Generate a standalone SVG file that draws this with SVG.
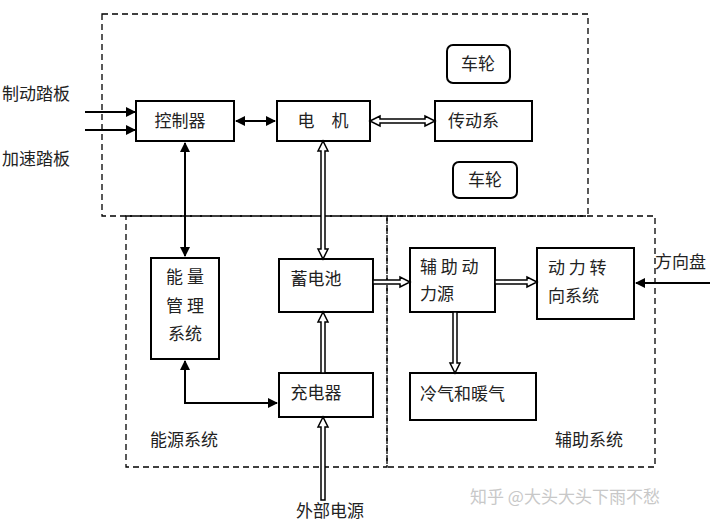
<svg xmlns="http://www.w3.org/2000/svg" width="720" height="528" viewBox="0 0 720 528">
<style>
.b{fill:#fff;stroke:#000;stroke-width:2}
.d{fill:none;stroke:#000;stroke-width:1.3;stroke-dasharray:6,4}
.t{font-family:"Noto Sans CJK SC","Liberation Serif",serif;font-size:17px;fill:#222}
.l{stroke:#000;stroke-width:2;fill:none}
.h{fill:#fff;stroke:#000;stroke-width:1.5}
</style>
<defs><marker id="a" viewBox="0 0 10 10" refX="9" refY="5" markerWidth="5" markerHeight="5" orient="auto-start-reverse"><path d="M0,0L10,5L0,10z" fill="#000"/></marker></defs>
<rect width="720" height="528" fill="#fff"/>
<g id="frames">
<rect class="d" x="102" y="14" width="486" height="202"/>
<rect class="d" x="126" y="216" width="261" height="251"/>
<rect class="d" x="387" y="216" width="268" height="251"/>
</g>
<g id="wheel1"><rect class="b" x="447" y="45" width="63" height="38" rx="6"/><text class="t" x="478" y="70" text-anchor="middle" font-size="15">车轮</text></g>
<g id="wheel2"><rect class="b" x="453" y="162" width="64" height="36" rx="6"/><text class="t" x="485" y="186" text-anchor="middle" font-size="15">车轮</text></g>
<g id="ctrl"><rect class="b" x="136" y="101" width="98" height="40"/><text class="t" x="180" y="127" text-anchor="middle">控制器</text></g>
<g id="motor"><rect class="b" x="277" y="101" width="93" height="40"/><text class="t" x="323" y="127" text-anchor="middle">电　机</text></g>
<g id="trans"><rect class="b" x="435" y="101" width="97" height="40"/><text class="t" x="448" y="127">传动系</text></g>
<g id="bms"><rect class="b" x="151" y="258" width="68" height="101"/><text class="t" x="185" y="283" text-anchor="middle">能 量</text><text class="t" x="185" y="312" text-anchor="middle">管 理</text><text class="t" x="185" y="340" text-anchor="middle">系统</text></g>
<g id="battery"><rect class="b" x="279" y="259" width="94" height="53"/><text class="t" x="316" y="285" text-anchor="middle">蓄电池</text></g>
<g id="charger"><rect class="b" x="279" y="373" width="94" height="44"/><text class="t" x="316" y="399" text-anchor="middle">充电器</text></g>
<g id="apu"><rect class="b" x="410" y="248" width="85" height="64"/><text class="t" x="420" y="273" font-size="15">辅 助 动</text><text class="t" x="420" y="300" font-size="15">力源</text></g>
<g id="steer"><rect class="b" x="537" y="248" width="97" height="71"/><text class="t" x="548" y="274">动 力 转</text><text class="t" x="548" y="302">向系统</text></g>
<g id="hvac"><rect class="b" x="410" y="373" width="126" height="47"/><text class="t" x="420" y="400">冷气和暖气</text></g>
<g id="labels">
<text class="t" x="2" y="100">制动踏板</text>
<text class="t" x="2" y="165">加速踏板</text>
<text class="t" x="150" y="446">能源系统</text>
<text class="t" x="555" y="446">辅助系统</text>
<text class="t" x="296" y="517">外部电源</text>
<text class="t" x="655" y="268">方向盘</text>
<text class="t" x="470" y="503" fill="#ccc" style="fill:#c8c8c8">知乎 @大头大头下雨不愁</text>
</g>
<g id="connectors">
<line class="l" x1="85" y1="112" x2="135" y2="112" marker-end="url(#a)"/>
<line class="l" x1="85" y1="130" x2="135" y2="130" marker-end="url(#a)"/>
<line class="l" x1="236" y1="121" x2="275" y2="121" marker-start="url(#a)" marker-end="url(#a)"/>
<line class="l" x1="185" y1="143" x2="185" y2="256" marker-start="url(#a)" marker-end="url(#a)"/>
<polyline class="l" points="185,361 185,403 277,403" marker-start="url(#a)" marker-end="url(#a)"/>
<line class="l" x1="710" y1="283" x2="636" y2="283" marker-end="url(#a)"/>
<polygon class="h" points="370,121 380,116 380,119 425,119 425,116 435,121 425,126 425,123 380,123 380,126"/>
<polygon class="h" points="323,141 318,151 321,151 321,249 318,249 323,259 328,249 325,249 325,151 328,151"/>
<polygon class="h" points="323,312 318,322 321,322 321,373 325,373 325,322 328,322"/>
<polygon class="h" points="323,417 318,427 321,427 321,500 325,500 325,427 328,427"/>
<polygon class="h" points="373,280 400,280 400,277 410,282 400,287 400,284 373,284"/>
<polygon class="h" points="495,280 527,280 527,277 537,282 527,287 527,284 495,284"/>
<polygon class="h" points="453,312 453,363 450,363 455,373 460,363 457,363 457,312"/>
</g>
</svg>
